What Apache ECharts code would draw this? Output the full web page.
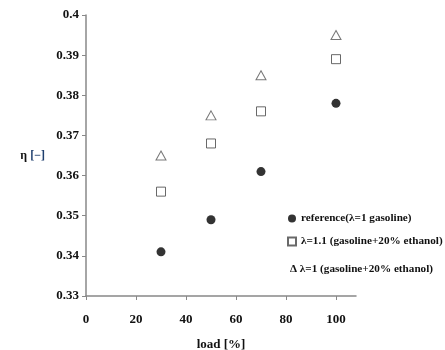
<!DOCTYPE html>
<html>
<head>
<meta charset="utf-8">
<script src="https://cdn.jsdelivr.net/npm/echarts@6/dist/echarts.min.js"></script>
<style>
  html, body { margin: 0; padding: 0; background: #fff; }
  #chart { width: 445px; height: 350px; }
</style>
</head>
<body>
<div id="chart"></div>
<script>
var loads = [30, 50, 70, 100];
var refGasoline = [0.341, 0.349, 0.361, 0.378];
var lambda11Ethanol = [0.356, 0.368, 0.376, 0.389];
var lambda1Ethanol = [0.365, 0.375, 0.385, 0.395];
var xTicks = [0, 20, 40, 60, 80, 100];

var seriesNames = [
    "reference(\u03bb=1 gasoline)",
    "\u03bb=1.1 (gasoline+20% ethanol)",
    "\u0394 \u03bb=1 (gasoline+20% ethanol)"
];

function pairs(xs, ys) {
    var out = [];
    for (var i = 0; i < xs.length; i++) out.push([xs[i], ys[i]]);
    return out;
}

var serif = "Liberation Serif";
var legendText = { fontFamily: serif, fontWeight: "bold", fontSize: 11.2, color: "#111" };
var tickText = { fontFamily: serif, fontWeight: "bold", fontSize: 13, color: "#111" };
var chart = echarts.init(document.getElementById("chart"));

var option = {
    animation: false,
    grid: { left: 86, top: 15, right: 89, bottom: 54, outerBoundsMode: "none" },
    legend: [{
        orient: "vertical",
        left: 282,
        top: 208,
        itemWidth: 8,
        itemHeight: 8,
        itemGap: 12,
        textStyle: legendText,
        data: [seriesNames[0], seriesNames[1]]
    }, {
        orient: "vertical",
        left: 280,
        top: 259,
        itemWidth: 0,
        itemHeight: 8,
        icon: "none",
        textStyle: legendText,
        data: [seriesNames[2]]
    }],
    xAxis: {
        type: "value",
        min: 0,
        max: 108,
        name: "load [%]",
        nameLocation: "middle",
        nameGap: 42,
        nameTextStyle: tickText,
        splitLine: { show: false },
        axisLine: { lineStyle: { color: "#888", width: 1.5 } },
        axisTick: { customValues: xTicks, length: 4, lineStyle: { color: "#888" } },
        axisLabel: Object.assign({ customValues: xTicks, margin: 17 }, tickText)
    },
    yAxis: {
        type: "value",
        min: 0.33,
        max: 0.4,
        interval: 0.01,
        name: "{e|\u03b7} {b|[\u2212]}",
        nameLocation: "middle",
        nameRotate: 0,
        nameGap: 41,
        nameTextStyle: {
            fontFamily: serif, fontWeight: "bold", fontSize: 12, color: "#111",
            rich: {
                e: { fontFamily: serif, fontWeight: "bold", fontSize: 12, color: "#111" },
                b: { fontFamily: serif, fontWeight: "bold", fontSize: 12, color: "#1f3f6e" }
            }
        },
        splitLine: { show: false },
        axisLine: { show: true, lineStyle: { color: "#888", width: 1.5 } },
        axisTick: { show: true, length: 4, lineStyle: { color: "#888" } },
        axisLabel: Object.assign({
            margin: 7,
            formatter: function(v) { return parseFloat(v.toFixed(2)).toString(); }
        }, tickText)
    },
    series: [{
        name: seriesNames[0],
        type: "scatter",
        symbol: "circle",
        symbolSize: 9,
        itemStyle: { color: "#000" },
        data: pairs(loads, refGasoline)
    }, {
        name: seriesNames[1],
        type: "scatter",
        symbol: "rect",
        symbolSize: 9,
        itemStyle: { color: "#fff", borderColor: "#444", borderWidth: 1 },
        data: pairs(loads, lambda11Ethanol)
    }, {
        name: seriesNames[2],
        type: "scatter",
        symbol: "triangle",
        symbolSize: [10, 9],
        itemStyle: { color: "#fff", borderColor: "#555", borderWidth: 1 },
        data: pairs(loads, lambda1Ethanol)
    }]
};

chart.setOption(option);
</script>
</body>
</html>
